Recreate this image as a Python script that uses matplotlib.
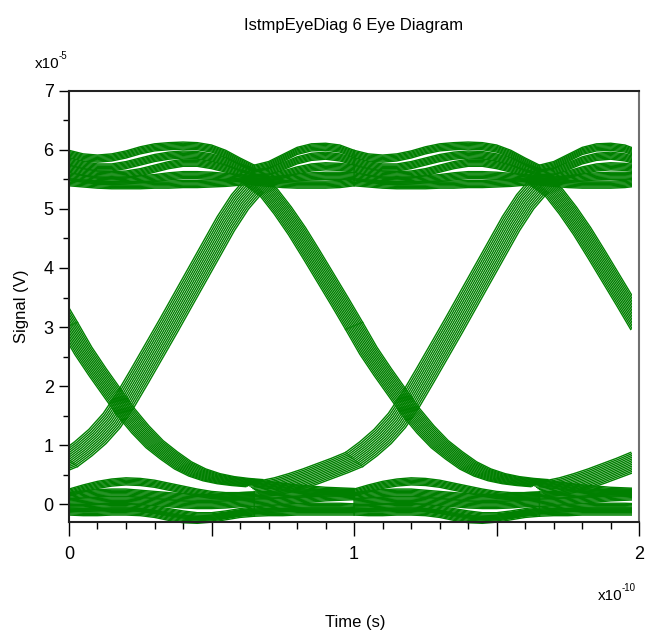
import numpy as np
import matplotlib.pyplot as plt
from matplotlib.patches import Rectangle
from matplotlib.ticker import MultipleLocator, FuncFormatter

plt.rcParams['font.family'] = ['Liberation Sans', 'DejaVu Sans']

# sample times inside one unit interval (x1e-10 s), split at the upper crossing
t_a = [0.00, 0.05, 0.10, 0.15, 0.20, 0.25, 0.30, 0.35, 0.40, 0.45, 0.50, 0.55, 0.60, 0.65]
t_b = [0.65, 0.70, 0.75, 0.80, 0.85, 0.90, 0.95, 1.00]

# signal levels (x1e-5 V) read off the eye
# high rail, first part of the interval
high_a = [
    [5.93, 5.87, 5.85, 5.87, 5.92, 5.99, 6.04, 6.06, 6.07, 6.06, 6.02, 5.93, 5.80, 5.68],
    [5.80, 5.74, 5.70, 5.70, 5.74, 5.80, 5.86, 5.90, 5.92, 5.91, 5.87, 5.80, 5.70, 5.62],
    [5.68, 5.62, 5.58, 5.57, 5.58, 5.62, 5.68, 5.74, 5.78, 5.78, 5.74, 5.68, 5.60, 5.55],
    [5.55, 5.51, 5.48, 5.47, 5.48, 5.50, 5.52, 5.55, 5.57, 5.57, 5.56, 5.54, 5.52, 5.50],
    [5.45, 5.43, 5.41, 5.40, 5.40, 5.40, 5.41, 5.41, 5.42, 5.42, 5.43, 5.44, 5.46, 5.48],
]
# high rail, second part
high_b = [
    [5.68, 5.74, 5.86, 5.98, 6.04, 6.05, 6.02, 5.93],
    [5.60, 5.63, 5.72, 5.82, 5.88, 5.90, 5.87, 5.80],
    [5.52, 5.53, 5.58, 5.65, 5.70, 5.72, 5.71, 5.68],
    [5.48, 5.48, 5.50, 5.53, 5.55, 5.56, 5.56, 5.55],
    [5.46, 5.44, 5.42, 5.41, 5.41, 5.41, 5.42, 5.45],
]
# low rail
low_a = [
    [0.20, 0.27, 0.33, 0.37, 0.39, 0.38, 0.35, 0.30, 0.25, 0.20, 0.16, 0.14, 0.14, 0.15],
    [0.14, 0.17, 0.19, 0.20, 0.20, 0.18, 0.16, 0.14, 0.12, 0.11, 0.11, 0.12, 0.14, 0.15],
    [0.04, 0.05, 0.06, 0.07, 0.07, 0.06, 0.04, 0.02, 0.00, -0.01, -0.01, 0.00, 0.02, 0.03],
    [-0.06, -0.06, -0.05, -0.04, -0.04, -0.06, -0.09, -0.13, -0.17, -0.20, -0.20, -0.17, -0.13, -0.10],
    [-0.12, -0.13, -0.13, -0.12, -0.12, -0.13, -0.16, -0.21, -0.25, -0.26, -0.24, -0.20, -0.16, -0.14],
]
low_b = [
    [0.36, 0.33, 0.30, 0.27, 0.25, 0.23, 0.22, 0.21],
    [0.15, 0.16, 0.17, 0.18, 0.19, 0.20, 0.20, 0.20],
    [0.03, 0.04, 0.06, 0.08, 0.10, 0.12, 0.13, 0.14],
    [-0.10, -0.08, -0.06, -0.05, -0.04, -0.04, -0.04, -0.05],
    [-0.14, -0.13, -0.13, -0.12, -0.12, -0.12, -0.12, -0.12],
]
# edges
rise_end = [0.76, 0.94, 1.15, 1.42, 1.78, 2.19, 2.61, 3.03, 3.46, 3.89, 4.32, 4.75, 5.12, 5.40]
fall_end = [3.02, 2.60, 2.24, 1.90, 1.56, 1.27, 1.02, 0.83, 0.66, 0.54, 0.46, 0.41, 0.38, 0.36]
fall_start = [5.45, 5.28, 4.97, 4.62, 4.23, 3.83, 3.43, 3.02]
rise_start = [0.25, 0.28, 0.33, 0.40, 0.48, 0.57, 0.66, 0.76]

# spread of the overlaid traces
band_dy = [-0.06, -0.04, -0.02, 0.0, 0.02, 0.04, 0.06]
edge_dt = [-0.03, -0.025, -0.02, -0.015, -0.01, -0.005, 0.0, 0.005, 0.01, 0.015, 0.02, 0.025, 0.03]
fall_dy = [-0.06, -0.05, -0.04, -0.03, -0.02, -0.01, 0.0, 0.01, 0.02, 0.03, 0.04, 0.05, 0.06]
rise_dy = [0.12, 0.10, 0.08, 0.06, 0.04, 0.02, 0.0, -0.02, -0.04, -0.06, -0.08, -0.10, -0.12]
ui_shift = [-1, 0, 1]

green = '#008000'
lw = 1.0

fig = plt.figure(figsize=(6.57, 6.36), dpi=100)
ax = fig.add_axes([0.105, 0.179, 0.868, 0.6785])

ta = np.array(t_a)
tb = np.array(t_b)
for s in ui_shift:
    for y in high_a + low_a:
        for d in band_dy:
            ax.plot(ta + s, np.array(y) + d, color=green, lw=lw)
    for y in high_b + low_b:
        for d in band_dy:
            ax.plot(tb + s, np.array(y) + d, color=green, lw=lw)
    for dt, dyf, dyr in zip(edge_dt, fall_dy, rise_dy):
        ax.plot(ta + s + dt, np.array(fall_end) + dyf, color=green, lw=lw)
        ax.plot(tb + s + dt, np.array(fall_start) + dyf, color=green, lw=lw)
        ax.plot(ta + s + dt, np.array(rise_end) + dyr, color=green, lw=lw)
        ax.plot(tb + s + dt, np.array(rise_start) + dyr, color=green, lw=lw)

# traces only exist up to the end of the record
clip = Rectangle((0, -1), 1.975, 10, transform=ax.transData)
for ln in ax.lines:
    ln.set_clip_path(clip)

ax.set_xlim(0, 2)
ax.set_ylim(-0.3, 7)
ax.xaxis.set_major_locator(MultipleLocator(0.5))
ax.xaxis.set_minor_locator(MultipleLocator(0.1))
ax.xaxis.set_major_formatter(FuncFormatter(lambda v, p: '%d' % round(v) if abs(v - round(v)) < 1e-6 else ''))
ax.yaxis.set_major_locator(MultipleLocator(1))
ax.yaxis.set_minor_locator(MultipleLocator(0.5))

ax.tick_params(axis='x', which='major', length=10, width=1.0, pad=7, labelsize=13, direction='out')
ax.tick_params(axis='x', which='minor', length=5, width=1.0, direction='out')
ax.tick_params(axis='y', which='major', length=7, width=1.0, pad=4, labelsize=13, direction='out')
ax.tick_params(axis='y', which='minor', length=4, width=1.0, direction='out')

for side in ['left', 'bottom', 'top']:
    ax.spines[side].set_color('#222222')
    ax.spines[side].set_linewidth(1.5)
ax.spines['right'].set_color('#707070')
ax.spines['right'].set_linewidth(1.5)

W, H = 657.0, 636.0
fig.text(354 / W, 1 - 30 / H, 'IstmpEyeDiag 6 Eye Diagram', ha='center', va='baseline', fontsize=12)
fig.text(35 / W, 1 - 68 / H, 'x10', ha='left', va='baseline', fontsize=11)
fig.text(59 / W, 1 - 59 / H, '-5', ha='left', va='baseline', fontsize=7)
fig.text(598 / W, 1 - 600 / H, 'x10', ha='left', va='baseline', fontsize=11)
fig.text(622 / W, 1 - 591 / H, '-10', ha='left', va='baseline', fontsize=7)
fig.text(355 / W, 1 - 622 / H, 'Time (s)', ha='center', va='center', fontsize=12)
fig.text(22 / W, 1 - 306 / H, 'Signal (V)', ha='center', va='center', rotation=90, fontsize=12)

fig.savefig('out.png', dpi=100)
